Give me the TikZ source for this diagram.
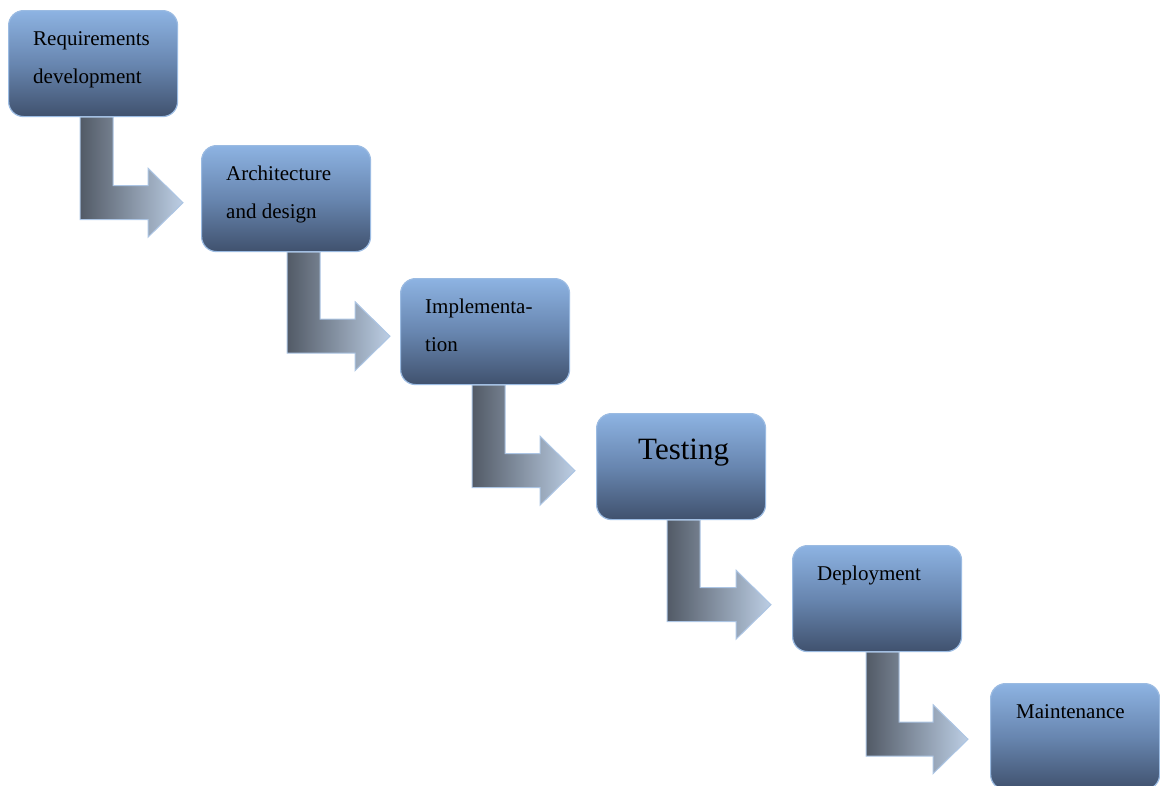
\documentclass[tikz,border=0pt]{standalone}
\usepackage{fontspec}
\setmainfont{Liberation Serif}
\usetikzlibrary{calc}

\definecolor{boxtop}{RGB}{141,179,226}
\definecolor{boxmid}{RGB}{104,134,176}
\definecolor{boxbot}{RGB}{64,81,110}
\definecolor{boxline}{RGB}{155,187,226}
\definecolor{arrdark}{RGB}{82,90,102}
\definecolor{arrlight}{RGB}{188,206,228}
\definecolor{arrline}{RGB}{172,197,228}

\tikzset{
  stage/.style={draw=boxline, line width=1.2pt, rounded corners=15pt,
    top color=boxtop, bottom color=boxbot, middle color=boxmid,
    minimum width=169pt, minimum height=106pt, inner sep=0pt, anchor=north west},
  caption/.style={anchor=base west, inner sep=0pt, text=black,
    font=\fontsize{21}{38}\selectfont},
  bigcaption/.style={caption, font=\fontsize{31}{38}\selectfont},
  flow/.style={draw=arrline, line width=1pt, left color=arrdark, right color=arrlight},
}

% bent block arrow leaving the bottom of stage #1 and pointing at stage #2
% #3 = stem offset from the left of #1, #4 = gap between tip and #2,
% #5 = drop of the arrow axis below #1
\newcommand\flowarrow[5]{%
  \draw[flow] let \p1=(#1.south west), \p2=(#2.north west) in
    (\x1+#3pt,\y1) -- (\x1+#3pt,\y1-#5pt-17pt) -- (\x2-#4pt-35pt,\y1-#5pt-17pt)
    -- (\x2-#4pt-35pt,\y1-#5pt-34.5pt) -- (\x2-#4pt,\y1-#5pt)
    -- (\x2-#4pt-35pt,\y1-#5pt+34.5pt) -- (\x2-#4pt-35pt,\y1-#5pt+17pt)
    -- (\x1+#3pt+33pt,\y1-#5pt+17pt) -- (\x1+#3pt+33pt,\y1) -- cycle;
}

\begin{document}
\begin{tikzpicture}[x=1pt,y=1pt]
  \useasboundingbox (0,0) rectangle (1160,-785);
  \clip (0,0) rectangle (1160,-785);

  \node[stage] (b1) at (8,-10) {};
  \node[stage] (b2) at (201,-145) {};
  \node[stage] (b3) at (400,-278) {};
  \node[stage] (b4) at (596,-413) {};
  \node[stage] (b5) at (792,-545) {};
  \node[stage] (b6) at (990,-683) {};

  \node[caption] (t1) at ($(b1.north west)+(25,-35)$)
    {\parbox[t]{150pt}{Requirements\\development}};
  \node[caption] (t2) at ($(b2.north west)+(25,-35)$)
    {\parbox[t]{150pt}{Architecture\\and design}};
  \node[caption] (t3) at ($(b3.north west)+(25,-35)$)
    {\parbox[t]{150pt}{Implementa-\\tion}};
  \node[bigcaption] (t4) at ($(b4.north west)+(42,-46)$) {Testing};
  \node[caption] (t5) at ($(b5.north west)+(25,-35)$) {Deployment};
  \node[caption] (t6) at ($(b6.north west)+(26,-35)$) {Maintenance};

  \flowarrow{b1}{b2}{72}{18}{85.5}
  \flowarrow{b2}{b3}{86}{10}{84}
  \flowarrow{b3}{b4}{72}{21}{85.5}
  \flowarrow{b4}{b5}{71}{21}{84.5}
  \flowarrow{b5}{b6}{74}{22}{87}
\end{tikzpicture}
\end{document}
